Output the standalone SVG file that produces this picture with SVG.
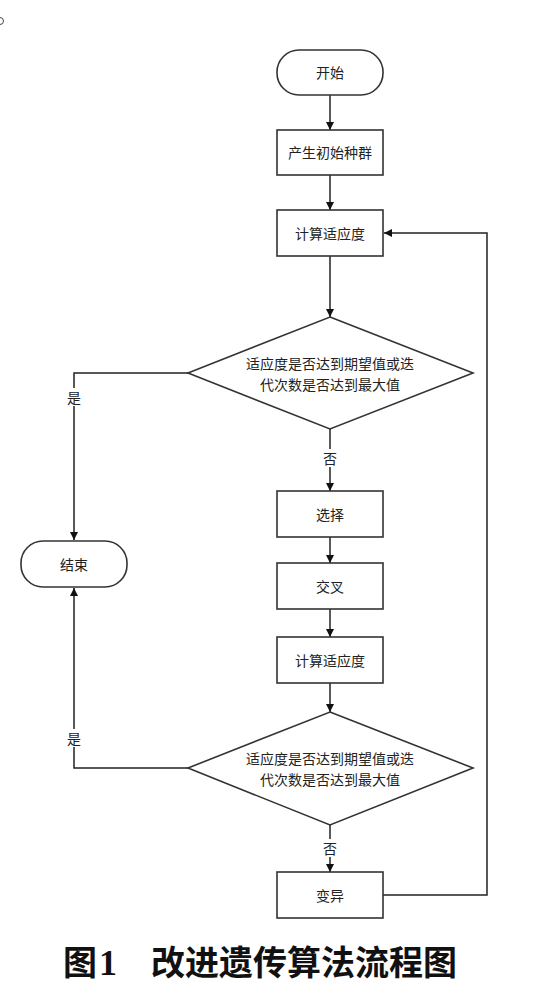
<svg xmlns="http://www.w3.org/2000/svg" width="558" height="1001" viewBox="0 0 558 1001">
<style>
.box{fill:#fff;stroke:#333;stroke-width:1.6}
.t{font-family:"Noto Sans CJK SC","Liberation Sans",sans-serif;font-size:14px;fill:#222;text-anchor:middle;dominant-baseline:central}
.c{fill:none;stroke:#222;stroke-width:1.5}
.lbl{fill:#fff}
.cap{font-family:"Noto Sans CJK SC","Liberation Sans",sans-serif;font-size:34px;font-weight:bold;fill:#111}
.num{font-family:"Liberation Serif",serif;font-size:36px;font-weight:bold;fill:#111}
</style>
<defs>
<marker id="ah" viewBox="0 0 10 10" refX="10" refY="5" markerWidth="8" markerHeight="8" markerUnits="userSpaceOnUse" orient="auto">
<path d="M0,0 L10,5 L0,10 z" fill="#111"/>
</marker>
</defs>
<circle cx="0" cy="21" r="3.5" fill="none" stroke="#444" stroke-width="1"/>
<g id="connectors">
<line class="c" x1="330" y1="95" x2="330" y2="130" marker-end="url(#ah)"/>
<line class="c" x1="330" y1="175" x2="330" y2="210" marker-end="url(#ah)"/>
<line class="c" x1="330" y1="256" x2="330" y2="317" marker-end="url(#ah)"/>
<polyline class="c" points="188,373 74,373 74,540" marker-end="url(#ah)"/>
<line class="c" x1="330" y1="429" x2="330" y2="491" marker-end="url(#ah)"/>
<line class="c" x1="330" y1="537" x2="330" y2="563" marker-end="url(#ah)"/>
<line class="c" x1="330" y1="609" x2="330" y2="637" marker-end="url(#ah)"/>
<line class="c" x1="330" y1="683" x2="330" y2="712" marker-end="url(#ah)"/>
<polyline class="c" points="188,768 74,768 74,588" marker-end="url(#ah)"/>
<line class="c" x1="330" y1="825" x2="330" y2="872" marker-end="url(#ah)"/>
<polyline class="c" points="383,895 487,895 487,233 384,233" marker-end="url(#ah)"/>
<rect class="lbl" x="66" y="388" width="16" height="18"/>
<text class="t" x="74" y="397">是</text>
<rect class="lbl" x="322" y="449" width="16" height="18"/>
<text class="t" x="330" y="458">否</text>
<rect class="lbl" x="66" y="729" width="16" height="18"/>
<text class="t" x="74" y="738">是</text>
<rect class="lbl" x="322" y="839" width="16" height="18"/>
<text class="t" x="330" y="848">否</text>
</g>
<g id="start"><rect class="box" x="277" y="50" width="106" height="45" rx="22" ry="22"/><text class="t" x="330" y="72">开始</text></g>
<g id="init"><rect class="box" x="277" y="130" width="106" height="45"/><text class="t" x="330" y="152">产生初始种群</text></g>
<g id="fit1"><rect class="box" x="277" y="210" width="106" height="46"/><text class="t" x="330" y="233">计算适应度</text></g>
<g id="dec1"><polygon class="box" points="330,317 473,373 330,429 188,373"/><text class="t" x="330" y="363">适应度是否达到期望值或迭</text><text class="t" x="330" y="384">代次数是否达到最大值</text></g>
<g id="end"><rect class="box" x="21" y="541" width="106" height="46" rx="22" ry="22"/><text class="t" x="74" y="564">结束</text></g>
<g id="select"><rect class="box" x="277" y="491" width="106" height="46"/><text class="t" x="330" y="514">选择</text></g>
<g id="cross"><rect class="box" x="277" y="563" width="106" height="46"/><text class="t" x="330" y="586">交叉</text></g>
<g id="fit2"><rect class="box" x="277" y="637" width="106" height="46"/><text class="t" x="330" y="660">计算适应度</text></g>
<g id="dec2"><polygon class="box" points="330,712 473,768 330,825 188,768"/><text class="t" x="330" y="758">适应度是否达到期望值或迭</text><text class="t" x="330" y="779">代次数是否达到最大值</text></g>
<g id="mutate"><rect class="box" x="277" y="872" width="106" height="46"/><text class="t" x="330" y="895">变异</text></g>
<text class="cap" x="63" y="975">图</text>
<text class="num" x="99" y="975">1</text>
<text class="cap" x="151" y="975">改进遗传算法流程图</text>
</svg>
